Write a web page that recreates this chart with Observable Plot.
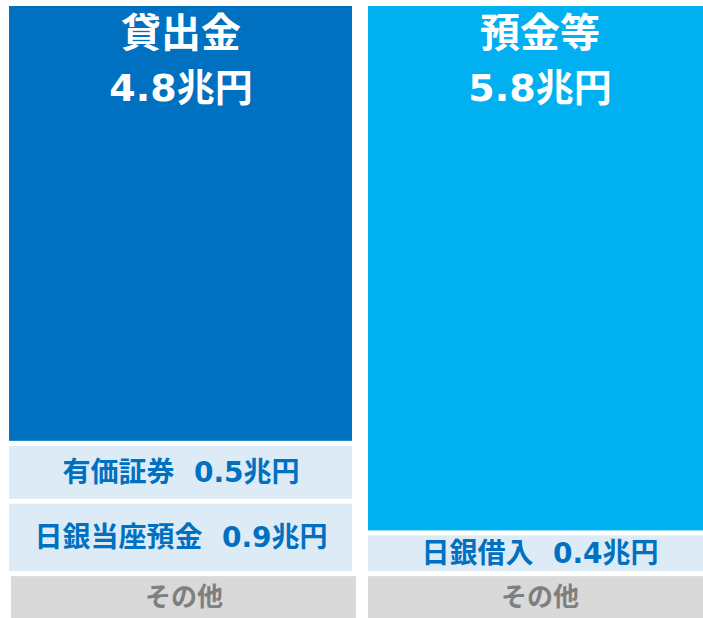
<!DOCTYPE html>
<html lang="ja">
<head>
<meta charset="utf-8">
<script src="https://cdn.jsdelivr.net/npm/d3@7"></script>
<script src="https://cdn.jsdelivr.net/npm/@observablehq/plot@0.6"></script>
<style>
  html, body { margin: 0; padding: 0; background: #fff; overflow: hidden; }
  #chart svg { display: block; }
</style>
</head>
<body>
<div id="chart"></div>
<script>
// ---- data ----
const sides = ["資産", "負債"];
// assets column (left), top to bottom
const assetItems   = ["貸出金", "有価証券", "日銀当座預金", "その他"];
const assetAmounts = [4.8, 0.5, 0.9, null];          // labelled amounts (兆円)
const assetBlocks  = [4.86, 0.64, 0.80, 0.50];       // drawn block heights incl. gap (兆円-equivalent)
// liabilities column (right), top to bottom
const liabItems    = ["預金等", "日銀借入", "その他"];
const liabAmounts  = [5.8, 0.4, null];
const liabBlocks   = [5.85, 0.45, 0.50];

// ---- build stacked table ----
function build(side, items, amounts, blocks) {
  const cum = d3.cumsum(blocks);
  return items.map((item, i) => ({
    side, item, amount: amounts[i],
    kind: i === 0 ? "main" : (amounts[i] == null ? "other" : "sub"),
    y1: cum[i] - blocks[i], y2: cum[i]
  }));
}
const rows = [
  ...build(sides[0], assetItems, assetAmounts, assetBlocks),
  ...build(sides[1], liabItems, liabAmounts, liabBlocks)
];

const fillFor = d => d.kind === "main" ? (d.side === sides[0] ? "#0070C0" : "#00B0F0")
                  : d.kind === "sub" ? "#DDEBF7" : "#D9D9D9";
const font = "'DejaVu Sans', 'Noto Sans CJK JP', sans-serif";

const isLeftOther = d => d.kind === "other" && d.side === sides[0];
const isRightOther = d => d.kind === "other" && d.side === sides[1];

const chart = Plot.plot({
  width: 703,
  height: 618,
  margin: 0,
  style: { fontFamily: font, background: "#fff" },
  x: { type: "band", domain: sides, range: [8, 712], paddingInner: 0.0444, paddingOuter: 0, axis: null },
  y: { domain: [0, 6.8], range: [6, 6 + 6.8 * 90.5], axis: null },
  marks: [
    Plot.barY(rows.filter(d => d.kind !== "other"), {
      x: "side", y1: "y1", y2: "y2", fill: fillFor, insetBottom: 5
    }),
    Plot.barY(rows.filter(isLeftOther), {
      x: "side", y1: "y1", y2: "y2", fill: fillFor, insetLeft: 2, insetRight: -4
    }),
    Plot.barY(rows.filter(isRightOther), {
      x: "side", y1: "y1", y2: "y2", fill: fillFor
    }),
    // big titles
    Plot.text(rows.filter(d => d.kind === "main"), {
      x: "side", y: "y1", text: "item", dy: 28,
      fill: "#fff", fontSize: 40, fontWeight: "bold", fontFamily: font
    }),
    Plot.text(rows.filter(d => d.kind === "main"), {
      x: "side", y: "y1", text: d => `${d.amount}兆円`, dy: 82,
      fill: "#fff", fontSize: 38, fontWeight: "bold", fontFamily: font
    }),
    // sub labels
    Plot.text(rows.filter(d => d.kind === "sub"), {
      x: "side", y: d => (d.y1 + d.y2) / 2, text: d => `${d.item}\u00A0\u00A0${d.amount}兆円`, dy: -2.5,
      fill: "#0070C0", fontSize: 28, fontWeight: "bold", fontFamily: font
    }),
    // その他
    Plot.text(rows.filter(isLeftOther), {
      x: "side", y: "y1", text: "item", dy: 21, dx: 3,
      fill: "#7F7F7F", fontSize: 26, fontWeight: "bold", fontFamily: font
    }),
    Plot.text(rows.filter(isRightOther), {
      x: "side", y: "y1", text: "item", dy: 21,
      fill: "#7F7F7F", fontSize: 26, fontWeight: "bold", fontFamily: font
    })
  ]
});
document.getElementById("chart").appendChild(chart);
</script>
</body>
</html>
